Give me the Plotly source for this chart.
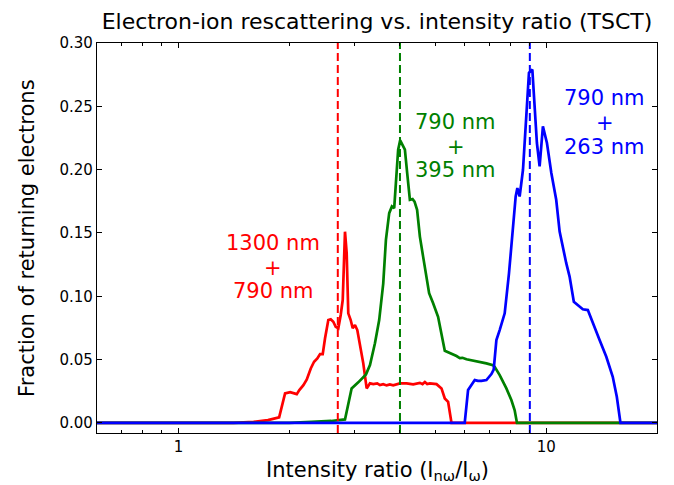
import math
import plotly.graph_objects as go

# ---------------- data ----------------
red_x = [0.6, 1.3, 1.41, 1.6, 1.75, 1.877, 1.948, 2.011, 2.052, 2.096, 2.130, 2.185, 2.232, 2.288,
         2.336, 2.384, 2.425, 2.466, 2.502, 2.554, 2.593, 2.635, 2.675, 2.719, 2.760, 2.795, 2.835,
         2.865, 2.894, 2.938, 2.975, 3.018, 3.062, 3.114, 3.179, 3.247, 3.315, 3.384, 3.469, 3.528,
         3.602, 3.679, 3.755, 3.834, 3.916, 3.998, 4.169, 4.345, 4.531, 4.608, 4.675, 4.743, 4.823,
         5.029, 5.188, 5.296, 5.407, 5.523, 20]
red_y = [0, 0, 0, 0.0008, 0.0022, 0.0043, 0.0233, 0.0243, 0.0233, 0.0227, 0.0259, 0.0298, 0.0343,
         0.043, 0.0483, 0.0509, 0.0543, 0.0543, 0.0668, 0.0812, 0.0818, 0.0799, 0.0759, 0.0747,
         0.0852, 0.097, 0.151, 0.134, 0.0865, 0.0812, 0.0747, 0.0773, 0.0733, 0.0615, 0.047, 0.0272,
         0.0312, 0.0306, 0.0312, 0.0298, 0.0306, 0.0296, 0.0304, 0.0296, 0.0306, 0.0312, 0.0312,
         0.0304, 0.0316, 0.0306, 0.0322, 0.0306, 0.0312, 0.0306, 0.0272, 0.0193, 0.0166, 0.0, 0]

green_x = [0.6, 2.0, 2.3, 2.6, 2.835, 2.955, 3.081, 3.233, 3.315, 3.42, 3.512, 3.602, 3.663, 3.739,
           3.803, 3.858, 3.899, 3.955, 4.005, 4.066, 4.125, 4.185, 4.256, 4.328, 4.382, 4.453,
           4.531, 4.624, 4.724, 4.801, 4.923, 5.078, 5.296, 5.465, 5.699, 5.818, 5.916, 6.066,
           6.457, 6.873, 7.161, 7.238, 7.468, 7.788, 8.035, 8.203, 8.322, 20]
green_y = [0, 0, 0.0008, 0.0015, 0.0027, 0.0272, 0.032, 0.0383, 0.0456, 0.0628, 0.0812, 0.110,
           0.1445, 0.1656, 0.1709, 0.1696, 0.1894, 0.2157, 0.2231, 0.2197, 0.2157, 0.1973, 0.1762,
           0.1767, 0.1748, 0.1682, 0.1471, 0.1313, 0.1155, 0.1024, 0.0944, 0.0838, 0.057, 0.0554,
           0.0528, 0.0512, 0.0514, 0.0502, 0.0488, 0.047, 0.0455, 0.0443, 0.0377, 0.0272, 0.018,
           0.010, 0, 0]

blue_x = [0.6, 6.0, 6.127, 6.297, 6.389, 6.522, 6.663, 6.873, 7.091, 7.193, 7.316, 7.468, 7.706,
          7.916, 8.116, 8.255, 8.343, 8.463, 8.641, 8.826, 8.971, 9.163, 9.295, 9.429, 9.59, 9.79,
          10.04, 10.32, 10.64, 10.87, 11.33, 11.57, 11.88, 12.31, 12.57, 12.97, 13.38, 13.96,
          14.56, 15.16, 15.55, 15.91, 20]
blue_y = [0, 0, 0.0259, 0.0312, 0.0338, 0.0332, 0.0332, 0.0338, 0.0385, 0.0420, 0.0654, 0.0733,
          0.0865, 0.118, 0.1524, 0.1788, 0.1854, 0.1788, 0.1999, 0.2394, 0.2764, 0.279, 0.2473,
          0.221, 0.2025, 0.2341, 0.221, 0.1973, 0.1762, 0.1511, 0.1261, 0.1155, 0.0957, 0.0918,
          0.0897, 0.0891, 0.0786, 0.0654, 0.0522, 0.0364, 0.0206, 0, 0]

# reference intensity ratios (dashed lines)
ratio_values = [2.71, 4.0, 9.02]

labels = [["1300 nm", "+", "790 nm"],
          ["790 nm", "+", "395 nm"],
          ["790 nm", "+", "263 nm"]]

x_tickvals = [1, 10]
x_ticktext = ["1", "10"]
x_minor_vals = [0.6, 0.7, 0.8, 0.9, 2, 3, 4, 5, 6, 7, 8, 9, 20]
y_tickvals = [0.0, 0.05, 0.10, 0.15, 0.20, 0.25, 0.30]

# ---------------- style ----------------
X_RANGE = [0.6, 20]
Y_RANGE = [-0.008, 0.30]
colors = ["#ff0000", "#008000", "#0000ff"]
FONT = "DejaVu Sans"

fig = go.Figure()
for xs, ys, c in [(red_x, red_y, colors[0]), (green_x, green_y, colors[1]), (blue_x, blue_y, colors[2])]:
    fig.add_trace(go.Scatter(x=xs, y=ys, mode="lines", line=dict(color=c, width=2.7),
                             showlegend=False, hoverinfo="skip"))

for r, c in zip(ratio_values, colors):
    fig.add_trace(go.Scatter(x=[r, r], y=Y_RANGE, mode="lines",
                             line=dict(color=c, width=2, dash="8px,4px"),
                             showlegend=False, hoverinfo="skip"))

# label positions (paper coords)
label_pos = [
    (0.3146, [0.4872, 0.4222, 0.3634]),
    (0.6409, [0.7979, 0.7329, 0.6733]),
    (0.9067, [0.8588, 0.7946, 0.7345]),
]
annotations = []
for (px, pys), lines, c in zip(label_pos, labels, colors):
    for py, t in zip(pys, lines):
        annotations.append(dict(x=px, y=py, xref="paper", yref="paper", text=t,
                                showarrow=False, xanchor="center", yanchor="middle",
                                font=dict(family=FONT, size=21, color=c)))

# axis titles placed as annotations so the plot box keeps its size
annotations.append(dict(x=0.5, y=-38 / 389.4, xref="paper", yref="paper",
                        text="Intensity ratio (I<sub>nω</sub>/I<sub>ω</sub>)",
                        showarrow=False, xanchor="center", yanchor="middle",
                        font=dict(family=FONT, size=21, color="black")))
annotations.append(dict(x=-70 / 559.4, y=0.5, xref="paper", yref="paper",
                        text="Fraction of returning electrons", textangle=-90,
                        showarrow=False, xanchor="center", yanchor="middle",
                        font=dict(family=FONT, size=21, color="black")))

fig.update_layout(
    width=674, height=485,
    margin=dict(l=97, r=17, t=43, b=52),
    paper_bgcolor="white", plot_bgcolor="white",
    font=dict(family=FONT, color="black"),
    title=dict(text="Electron-ion rescattering vs. intensity ratio (TSCT)",
               x=0.5, xref="paper", xanchor="center",
               y=1 - 21 / 485, yref="container", yanchor="middle",
               font=dict(family=FONT, size=22, color="black")),
    annotations=annotations,
    xaxis=dict(type="log", range=[math.log10(X_RANGE[0]), math.log10(X_RANGE[1])],
               automargin=False,
               tickmode="array", tickvals=x_tickvals, ticktext=x_ticktext,
               ticks="inside", ticklen=5, tickwidth=1, tickcolor="black",
               minor=dict(tickmode="array", tickvals=x_minor_vals, ticks="inside",
                          ticklen=3, tickwidth=1, tickcolor="black", showgrid=False),
               showline=True, linecolor="black", linewidth=1.3, mirror="ticks",
               showgrid=False, zeroline=False,
               tickfont=dict(family=FONT, size=15, color="black")),
    yaxis=dict(range=Y_RANGE, automargin=False,
               tickmode="array", tickvals=y_tickvals, tickformat=".2f",
               ticks="inside", ticklen=5, tickwidth=1, tickcolor="black",
               showline=True, linecolor="black", linewidth=1.3, mirror="ticks",
               showgrid=False, zeroline=False,
               tickfont=dict(family=FONT, size=15, color="black")),
)

fig.write_html("out.html")
